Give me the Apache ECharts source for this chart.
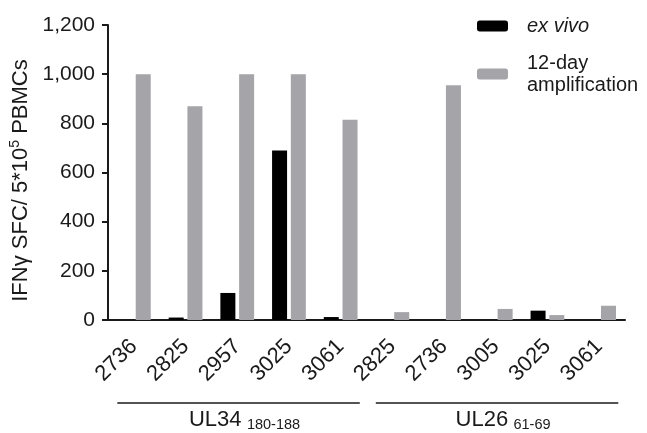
<!DOCTYPE html>
<html>
<head>
<meta charset="utf-8">
<script src="https://cdn.jsdelivr.net/npm/echarts@6/dist/echarts.min.js"></script>
<style>
  html, body { margin: 0; padding: 0; background: #fff; }
  #chart { width: 647px; height: 433px; }
</style>
</head>
<body>
<div id="chart"></div>
<script>
// donor ids on the x axis
var donors = ['2736', '2825', '2957', '3025', '3061', '2825', '2736', '3005', '3025', '3061'];
var exVivo = [0, 10, 110, 690, 12, 0, 0, 0, 38, 0];
var amplified = [1000, 870, 1000, 1000, 815, 32, 955, 45, 20, 58];
var yTicks = [0, 200, 400, 600, 800, 1000, 1200];

// peptide groups under the axis
var groupNames = ['UL34', 'UL26'];
var groupSubs = ['180-188', '61-69'];
var groupFirst = [0, 5];
var groupLast = [4, 9];

var font = 'Liberation Sans, Arial, sans-serif';
var ink = '#1a1a1a';

var chart = echarts.init(document.getElementById('chart'));

var option = {
    animation: false,
    backgroundColor: '#fff',
    textStyle: { fontFamily: font },
    grid: { left: 108, right: 22, top: 25, bottom: 113 },
    legend: {
        orient: 'vertical',
        left: 477,
        top: 15,
        padding: 0,
        itemWidth: 31,
        itemHeight: 11,
        itemGap: 15,
        data: ['ex vivo', '12-day\namplification'],
        formatter: function (name) {
            return name === 'ex vivo' ? '{i|ex vivo}' : name;
        },
        textStyle: {
            fontSize: 20, color: ink, fontFamily: font, lineHeight: 22,
            padding: [0, 0, 0, 14],
            rich: { i: { fontStyle: 'italic', fontSize: 20, fontFamily: font, color: ink } }
        }
    },
    xAxis: {
        type: 'category',
        data: donors,
        boundaryGap: true,
        axisLine: { lineStyle: { color: ink, width: 2 } },
        axisTick: { alignWithLabel: true, interval: 0, length: 7, lineStyle: { color: ink, width: 2 } },
        axisLabel: { interval: 0, rotate: 45, margin: 23, fontSize: 22, color: ink, fontFamily: font }
    },
    yAxis: {
        type: 'value',
        min: yTicks[0],
        max: yTicks[yTicks.length - 1],
        interval: 200,
        splitLine: { show: false },
        axisLine: { show: true, lineStyle: { color: ink, width: 2 } },
        axisTick: { show: true, length: 6, lineStyle: { color: ink, width: 2 } },
        axisLabel: {
            fontSize: 21, color: ink, margin: 13, fontFamily: font,
            formatter: function (v) { return v.toLocaleString('en-US'); }
        },
        name: 'IFNγ SFC/ 5*10{sup|5} PBMCs',
        nameLocation: 'middle',
        nameRotate: 90,
        nameGap: 62,
        nameTextStyle: {
            fontSize: 22, color: ink, fontFamily: font,
            padding: [0, 16, 0, 0],
            rich: { sup: { fontSize: 14, color: ink, fontFamily: font, padding: [0, 0, 10, 0] } }
        }
    },
    series: [
        {
            name: 'ex vivo',
            type: 'bar',
            data: exVivo,
            barWidth: 15,
            barGap: '25%',
            itemStyle: { color: '#000' }
        },
        {
            name: '12-day\namplification',
            type: 'bar',
            data: amplified,
            barWidth: 15,
            barGap: '25%',
            itemStyle: { color: '#a4a4a9' }
        }
    ]
};
chart.setOption(option);

// group brackets below the rotated labels
function drawGroups() {
    var step = chart.convertToPixel({ xAxisIndex: 0 }, 1) - chart.convertToPixel({ xAxisIndex: 0 }, 0);
    var elements = [];
    for (var i = 0; i < groupNames.length; i++) {
        var x0 = chart.convertToPixel({ xAxisIndex: 0 }, groupFirst[i]) - step * 0.32;
        var x1 = chart.convertToPixel({ xAxisIndex: 0 }, groupLast[i]) + step * 0.37;
        elements.push({
            type: 'line',
            shape: { x1: x0, y1: 403, x2: x1, y2: 403 },
            style: { stroke: ink, lineWidth: 1.5 }
        });
        elements.push({
            type: 'text',
            x: (x0 + x1) / 2 + 6,
            y: 420,
            style: {
                text: '{m|' + groupNames[i] + '} {s|' + groupSubs[i] + '}',
                align: 'center',
                verticalAlign: 'middle',
                rich: {
                    m: { fontSize: 22, fontFamily: font, fill: ink },
                    s: { fontSize: 14.5, fontFamily: font, fill: ink, padding: [9, 0, 0, 2] }
                }
            }
        });
    }
    chart.setOption({ graphic: elements });
}
drawGroups();
</script>
</body>
</html>
